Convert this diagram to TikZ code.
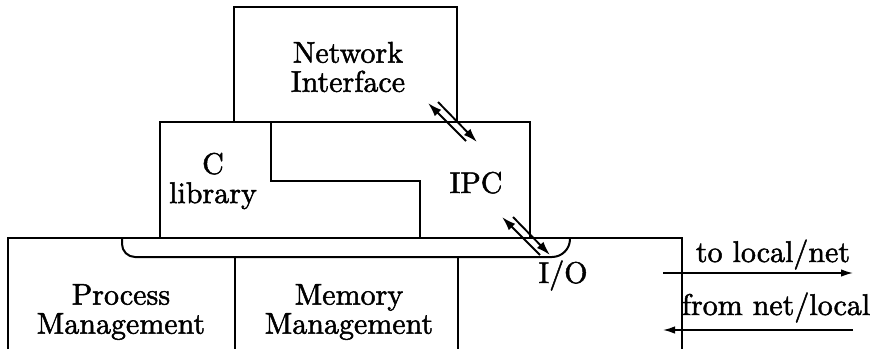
\documentclass[tikz,border=0pt]{standalone}
\usepackage{fontspec}
\newfontfamily\inkfont{lmroman10-regular.otf}[FakeBold=1.6]
\usetikzlibrary{arrows.meta}
\begin{document}
\begin{tikzpicture}[x=1pt,y=-1pt,line width=2pt,line join=miter,
  lbl/.style={scale=3,align=center,inner sep=0pt,font=\inkfont\fontsize{10}{9.7}\selectfont},
  flow/.style={line width=1.9pt,-{Latex[length=14pt,width=9pt]}},
  ioflow/.style={line width=1.5pt,-{Latex[length=12pt,width=7.5pt]}}]
\useasboundingbox (0,0) rectangle (879,349);

% network interface on top
\draw (234,7) rectangle (457,122);
% middle layer: C library and IPC
\draw (160,122) rectangle (530,238);
\draw (271,122) -- (271,181) -- (420,181) -- (420,238);
% kernel layer, open at the bottom
\draw (8,349) -- (8,238) -- (682,238) -- (682,349);
% channel running under the middle layer
\draw (122,238) -- (122,244) arc[start angle=180,end angle=90,radius=13]
      -- (552,257) arc[start angle=90,end angle=0,radius=18];
% kernel dividers
\draw (235,257) -- (235,349);
\draw (458,257) -- (458,349);

% labels
\node[lbl] (net)  at (348,67)  {Network\\Interface};
\node[lbl] (clib) at (213,181) {C\\library};
\node[lbl,anchor=base] (ipc) at (476,193) {IPC};
\node[lbl] (proc) at (121,312) {Process\\Management};
\node[lbl] (mem)  at (349,312) {Memory\\Management};
\node[lbl,anchor=base] (io) at (563,283) {I/O};
\node[lbl,anchor=base] (tolbl)   at (773,262) {to local/net};
\node[lbl,anchor=base] (fromlbl) at (776,315) {from net/local};

% two-way paths: interface <-> IPC, IPC <-> I/O
\coordinate (a1) at (466,141); \coordinate (a2) at (428,103);
\coordinate (b1) at (438,102); \coordinate (b2) at (477,142);
\draw[flow] (a1) -- (a2);
\draw[flow] (b1) -- (b2);
\coordinate (c1) at (540,255); \coordinate (c2) at (502,217);
\coordinate (d1) at (513,217); \coordinate (d2) at (550,255);
\draw[flow] (c1) -- (c2);
\draw[flow] (d1) -- (d2);

% external traffic
\coordinate (outA) at (663,273); \coordinate (outB) at (853,273);
\coordinate (inA)  at (853,330); \coordinate (inB)  at (663,330);
\draw[ioflow] (outA) -- (outB);
\draw[ioflow] (inA) -- (inB);
\end{tikzpicture}
\end{document}
